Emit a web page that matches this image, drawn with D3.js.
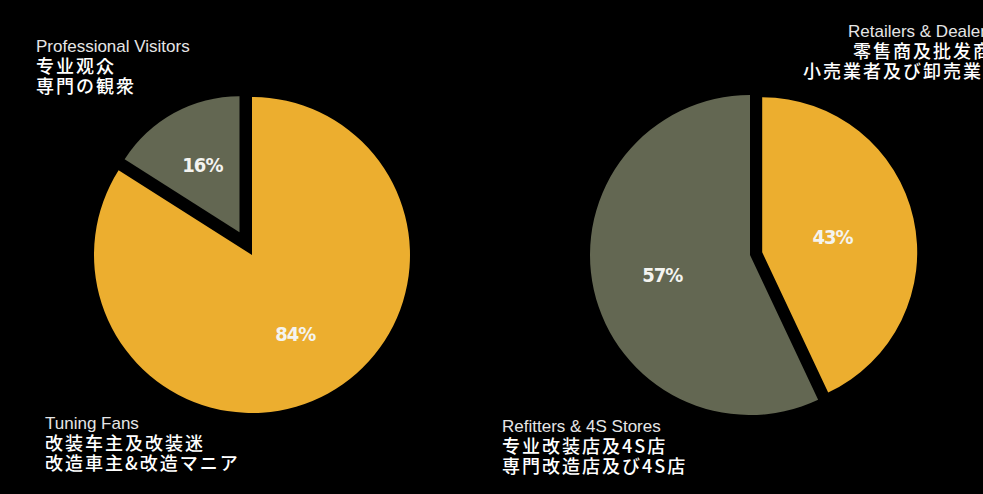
<!DOCTYPE html>
<html>
<head>
<meta charset="utf-8">
<script src="https://cdn.jsdelivr.net/npm/d3@7"></script>
<style>
  body { margin: 0; background: #000; }
  svg { display: block; }
</style>
</head>
<body>
<svg id="chart"></svg>
<script>
// left pie: who visits
const visitorCats = ["Tuning Fans", "Professional Visitors"];
const visitorCn = ["改装车主及改装迷", "专业观众"];
const visitorJp = ["改造車主&改造マニア", "専門の観衆"];
const visitorValues = [84, 16];

// right pie: sales channels
const channelCats = ["Retailers & Dealers", "Refitters & 4S Stores"];
const channelCn = ["零售商及批发商", "专业改装店及4S店"];
const channelJp = ["小売業者及び卸売業者", "専門改造店及び4S店"];
const channelValues = [43, 57];

const colors = ["#ecae2f", "#636752"];

const width = 983, height = 494;
const svg = d3.select("#chart").attr("width", width).attr("height", height);
svg.append("rect").attr("width", width).attr("height", height).attr("fill", "#000");

const pie = d3.pie().sort(null).value(d => d);

// layout per chart: slice radius, explode distance, label radius, text block spots
const charts = [
  {
    cats: visitorCats, cn: visitorCn, jp: visitorJp, values: visitorValues,
    cx: 252, cy: 255, radius: [158, 136], explode: [0, 26], labelR: [90, 77],
    text: [{ x: [45, 45, 45], y: 429 }, { x: [36, 36, 36], y: 52 }]
  },
  {
    cats: channelCats, cn: channelCn, jp: channelJp, values: channelValues,
    cx: 750, cy: 255, radius: [155, 160], explode: [12.5, 0], labelR: [72, 90],
    text: [{ x: [848, 853, 803], y: 37 }, { x: [502, 502, 502], y: 432 }]
  }
];

charts.forEach(c => {
  const g = svg.append("g").attr("transform", `translate(${c.cx},${c.cy})`);
  const arcs = pie(c.values);

  arcs.forEach((d, i) => {
    const mid = (d.startAngle + d.endAngle) / 2;
    const ox = Math.sin(mid) * c.explode[i];
    const oy = -Math.cos(mid) * c.explode[i];
    const arc = d3.arc().innerRadius(0).outerRadius(c.radius[i]);
    const labelArc = d3.arc().innerRadius(c.labelR[i]).outerRadius(c.labelR[i]);

    const slice = g.append("g").attr("transform", `translate(${ox},${oy})`);
    slice.append("path")
      .attr("d", arc(d))
      .attr("fill", colors[i]);

    const [lx, ly] = labelArc.centroid(d);
    slice.append("text")
      .attr("x", lx)
      .attr("y", ly)
      .attr("dy", "0.36em")
      .attr("text-anchor", "middle")
      .attr("fill", "#f4f4f0")
      .attr("font-family", "'Liberation Sans Narrow', 'DejaVu Sans Condensed', sans-serif")
      .attr("font-weight", "bold")
      .attr("font-size", 20)
      .attr("letter-spacing", -1)
      .text(d.value + "%");
  });

  // category captions, English / Chinese / Japanese
  c.text.forEach((t, i) => {
    const lines = [c.cats[i], c.cn[i], c.jp[i]];
    lines.forEach((s, k) => {
      svg.append("text")
        .attr("x", t.x[k])
        .attr("y", t.y + k * 20.5)
        .attr("fill", k === 0 ? "#e6e6e6" : "#fff")
        .attr("font-family", k === 0 ? "'Liberation Sans', Arial, sans-serif" : "'Noto Sans CJK JP', 'Noto Sans CJK SC', sans-serif")
        .attr("font-size", k === 0 ? 17 : 18)
        .attr("font-weight", k === 0 ? "normal" : "500")
        .attr("letter-spacing", k === 0 ? 0 : 2)
        .text(s);
    });
  });
});
</script>
</body>
</html>
